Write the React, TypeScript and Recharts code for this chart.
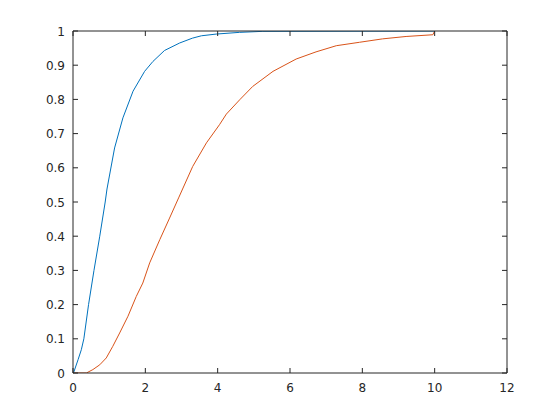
import { LineChart, Line, XAxis, YAxis } from 'recharts';

const blueX = [0, 0.02, 0.14, 0.23, 0.3, 0.43, 0.58, 0.74, 0.89, 0.94, 1.15, 1.38, 1.66, 1.98, 2.21, 2.53, 2.95, 3.3, 3.55, 3.96, 4.6, 5.25, 10];
const blueY = [0, 0.002, 0.039, 0.068, 0.1, 0.2, 0.3, 0.4, 0.5, 0.538, 0.658, 0.746, 0.824, 0.882, 0.911, 0.943, 0.965, 0.979, 0.986, 0.991, 0.996, 0.999, 1];
const redX = [0, 0.37, 0.55, 0.74, 0.92, 1.1, 1.29, 1.52, 1.75, 1.93, 2.12, 2.4, 2.67, 2.92, 3.31, 3.69, 4.05, 4.24, 4.61, 4.97, 5.53, 6.17, 6.72, 7.28, 7.92, 8.56, 9.21, 9.95, 10];
const redY = [0, 0, 0.01, 0.024, 0.044, 0.078, 0.117, 0.166, 0.224, 0.263, 0.322, 0.39, 0.453, 0.512, 0.604, 0.673, 0.726, 0.757, 0.799, 0.838, 0.882, 0.918, 0.939, 0.957, 0.967, 0.977, 0.984, 0.989, 1];
const xTicks = [0, 2, 4, 6, 8, 10, 12];
const yTicks = [0, 0.1, 0.2, 0.3, 0.4, 0.5, 0.6, 0.7, 0.8, 0.9, 1];

const blue = blueX.map((x, i) => ({ x, y: blueY[i] }));
const red = redX.map((x, i) => ({ x, y: redY[i] }));

const W = 560, H = 420;
const margin = { top: 31, right: 53, bottom: 17, left: 33 };
const yAxisW = 40, xAxisH = 30;
const plotW = W - margin.left - margin.right - yAxisW;
const plotH = H - margin.top - margin.bottom - xAxisH;

const ink = '#262626';
const font = 'DejaVu Sans';
const fs = 12;
const tl = 5; // inward tick length

const xMax = xTicks[xTicks.length - 1];
const yMax = yTicks[yTicks.length - 1];

// tickSize/tickMargin are 0, so x/y sit on the axis line;
// each tick draws its label plus inward marks on both sides of the box,
// the last tick also draws the opposite border (box on)
const BottomTick = (p: any) => (
  <g>
    {p.payload.value === xMax && (
      <line x1={p.x} x2={p.x} y1={p.y} y2={p.y - plotH} stroke={ink} strokeWidth={1} />
    )}
    <line x1={p.x} x2={p.x} y1={p.y} y2={p.y - tl} stroke={ink} strokeWidth={1} />
    <line x1={p.x} x2={p.x} y1={p.y - plotH} y2={p.y - plotH + tl} stroke={ink} strokeWidth={1} />
    <text x={p.x} y={p.y + 19} textAnchor="middle" fontSize={fs} fontFamily={font} fill={ink}>{p.payload.value}</text>
  </g>
);
const LeftTick = (p: any) => (
  <g>
    {p.payload.value === yMax && (
      <line x1={p.x} x2={p.x + plotW} y1={p.y} y2={p.y} stroke={ink} strokeWidth={1} />
    )}
    <line x1={p.x} x2={p.x + tl} y1={p.y} y2={p.y} stroke={ink} strokeWidth={1} />
    <line x1={p.x + plotW} x2={p.x + plotW - tl} y1={p.y} y2={p.y} stroke={ink} strokeWidth={1} />
    <text x={p.x - 8} y={p.y + 4.5} textAnchor="end" fontSize={fs} fontFamily={font} fill={ink}>{p.payload.value}</text>
  </g>
);

export default function App() {
  return (
    <div style={{ position: 'absolute', left: 0, top: 0, width: W, height: H, background: '#fff' }}>
      <LineChart width={W} height={H} margin={margin}>
        <XAxis xAxisId="b" dataKey="x" type="number" domain={[0, 12]} ticks={xTicks} allowDataOverflow
          height={xAxisH} tickSize={0} tickMargin={0} tickLine={false} stroke={ink} tick={BottomTick} />
        <YAxis yAxisId="l" dataKey="y" type="number" domain={[0, 1]} ticks={yTicks} allowDataOverflow
          width={yAxisW} tickSize={0} tickMargin={0} tickLine={false} stroke={ink} tick={LeftTick} />
        <Line xAxisId="b" yAxisId="l" data={red} dataKey="y" type="linear" stroke="#D95319" strokeWidth={1} dot={false} isAnimationActive={false} />
        <Line xAxisId="b" yAxisId="l" data={blue} dataKey="y" type="linear" stroke="#0072BD" strokeWidth={1} dot={false} isAnimationActive={false} />
      </LineChart>
    </div>
  );
}
